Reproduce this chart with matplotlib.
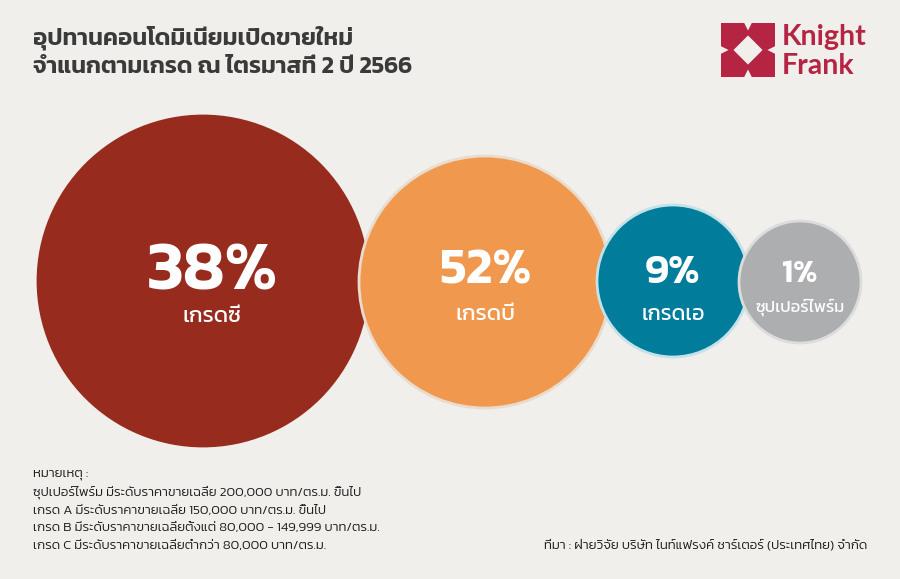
import matplotlib
matplotlib.use("Agg")
import matplotlib.pyplot as plt
from matplotlib.patches import Circle, Polygon

# ---------- data ------------------------------------------------------------
grades = ["เกรดซี", "เกรดบี", "เกรดเอ", "ซุปเปอร์ไพร์ม"]
shares = [38, 52, 9, 1]          # % of new supply, Q2 2566

title = ["อุปทานคอนโดมิเนียมเปิดขายใหม่",
         "จำแนกตามเกรด ณ ไตรมาสที่ 2 ปี 2566"]
notes = ["หมายเหตุ :",
         "ซุปเปอร์ไพร์ม มีระดับราคาขายเฉลี่ย 200,000 บาท/ตร.ม. ขึ้นไป",
         "เกรด A มีระดับราคาขายเฉลี่ย 150,000 บาท/ตร.ม. ขึ้นไป",
         "เกรด B มีระดับราคาขายเฉลี่ยตั้งแต่ 80,000 - 149,999 บาท/ตร.ม.",
         "เกรด C มีระดับราคาขายเฉลี่ยต่ำกว่า 80,000 บาท/ตร.ม."]
source = "ที่มา : ฝ่ายวิจัย บริษัท ไนท์แฟรงค์ ชาร์เตอร์ (ประเทศไทย) จำกัด"

# ---------- layout (pixels, y down) -----------------------------------------
cx = [203, 485, 673, 800]
cy = [281, 282, 281, 282]
rad = [165, 126, 76, 61]
tx = [212, 485, 673, 800]           # text centre inside each bubble
fills = ["#972b1e", "#f1984f", "#017d9b", "#adaeb0"]
edges = ["#972b1e", "#e9dccd", "#c3e2ea", "#dcdcdc"]
num_base = [290, 283, 283, 282]     # baselines of the % numbers
num_size = [50, 37, 30, 23]
lab_base = [322, 320, 320, 312]
lab_size = [16, 16, 15.5, 12]

BG = "#f0efeb"
KF = "#b52442"
FONT = ["Kanit", "DejaVu Sans"]

fig = plt.figure(figsize=(9, 5.79), dpi=100, facecolor=BG)
ax = fig.add_axes([0, 0, 1, 1])
ax.set_xlim(0, 900)
ax.set_ylim(579, 0)
ax.axis("off")

# bubbles, later ones overlap earlier ones
for i, (g, s) in enumerate(zip(grades, shares)):
    ax.add_patch(Circle((cx[i], cy[i]), rad[i], facecolor=fills[i],
                        edgecolor=edges[i], linewidth=2, zorder=2 + i))
    ax.text(tx[i], num_base[i], f"{s}%", ha="center", va="baseline",
            color="white", fontsize=num_size[i], fontweight=600,
            family=FONT, zorder=10)
    ax.text(tx[i], lab_base[i], g, ha="center", va="baseline",
            color="white", fontsize=lab_size[i], fontweight=400,
            family=FONT, zorder=10)

# title
ax.text(33, 45, title[0], ha="left", va="baseline", fontsize=17.2,
        fontweight=600, color="#3a3a3a", family=FONT)
ax.text(33, 73, title[1], ha="left", va="baseline", fontsize=17.2,
        fontweight=600, color="#3a3a3a", family=FONT)

# logo
x0, y0, sz = 721, 23, 54
piece = [(0, 0), (0.43, 0), (0.53, 0.2), (0.2, 0.53), (0, 0.43)]
for fx, fy in [(1, 1), (-1, 1), (1, -1), (-1, -1)]:
    pts = [(x0 + sz / 2 + fx * (px - 0.5) * sz,
            y0 + sz / 2 + fy * (py - 0.5) * sz) for px, py in piece]
    ax.add_patch(Polygon(pts, closed=True, facecolor=KF, linewidth=0))
ax.text(782, 45, "Knight", ha="left", va="baseline", fontsize=20.5,
        fontweight="bold", color=KF, family=["Lato", "DejaVu Sans"])
ax.text(782, 74, "Frank", ha="left", va="baseline", fontsize=20.5,
        fontweight="bold", color=KF, family=["Lato", "DejaVu Sans"])

# notes
for k, line in enumerate(notes):
    ax.text(33, 475 + k * 17.5, line, ha="left", va="center", fontsize=9.6,
            fontweight=300, color="#1e1e1e", family=FONT)

ax.text(867, 545, source, ha="right", va="center", fontsize=9.6,
        fontweight=300, color="#1e1e1e", family=FONT)

fig.savefig("out.png", facecolor=BG)
